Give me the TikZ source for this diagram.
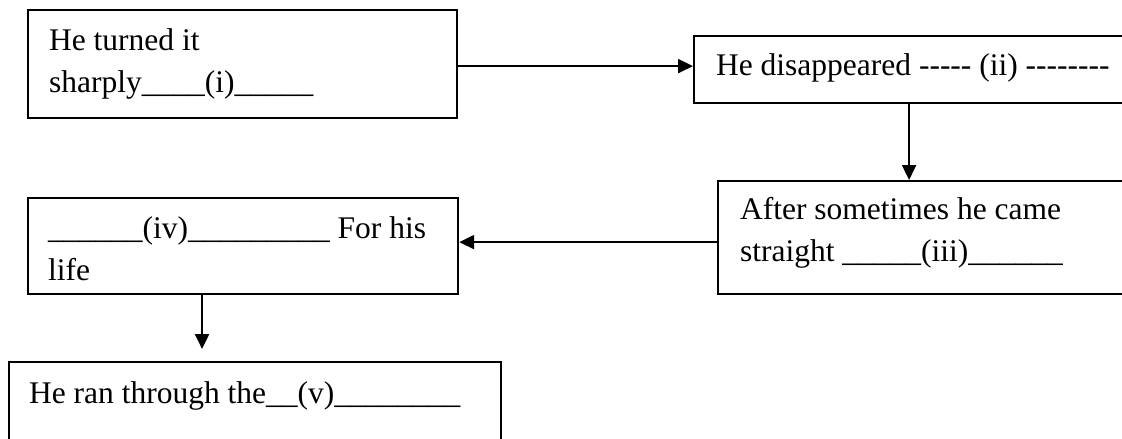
\documentclass[tikz,border=0pt]{standalone}
\usepackage{fontspec}
\setmainfont{Liberation Serif}
\usetikzlibrary{positioning}
\usetikzlibrary{arrows.meta}
\usetikzlibrary{calc}

\begin{document}
\begin{tikzpicture}[
            x = 1pt, y = -1pt,
            > = {Triangle[length=15pt, width=14pt]}, % arrow head style
            line width = 2.2pt
        ]

        \tikzstyle{box}=[
            draw,
            anchor = north west,
            inner sep = 0pt
        ]
        \tikzstyle{txt}=[
            inner sep = 0pt,
            align = left,
            font = \fontsize{31.5}{42}\selectfont
        ]

        \clip (0,0) rectangle (1122,439);

	% boxes
        \node[box, minimum width = 429, minimum height = 108] (B1) at (27,9) {};
        \node[box, minimum width = 430, minimum height = 67] (B2) at (693,35) {};
        \node[box, minimum width = 430, minimum height = 113] (B3) at (717,180) {};
        \node[box, minimum width = 430, minimum height = 96] (B4) at (27,197) {};
        \node[box, minimum width = 492, minimum height = 108] (B5) at (8,361) {};

         % texts
         \node[txt, below right = 10.6pt and 21pt of B1.north west] (T1)
              {\strut He turned it\\sharply\_\_\_\_(i)\_\_\_\_\_};
         \node[txt, below right = 9.6pt and 22pt of B2.north west] (T2)
              {\strut He disappeared -{}-{}-{}-{}- (ii) -{}-{}-{}-{}-{}-{}-{}-};
         \node[txt, below right = 8.6pt and 22pt of B3.north west] (T3)
              {\strut After sometimes he came\\straight \_\_\_\_\_(iii)\_\_\_\_\_\_};
         \node[txt, below right = 10.6pt and 20pt of B4.north west] (T4)
              {\strut\_\_\_\_\_\_(iv)\_\_\_\_\_\_\_\_\_ For his\\life};
         \node[txt, below right = 11.6pt and 20pt of B5.north west] (T5)
              {\strut He ran through the\_\_(v)\_\_\_\_\_\_\_\_};

         % arrows
         \coordinate (C1) at ([yshift=-2pt]B1.east);
         \draw[->] (C1) -- (C1 -| B2.west);
         \draw[->] (B2.south) -- (B2.south |- B3.north);
         \coordinate (C3) at ([yshift=-4.5pt]B3.west);
         \draw[->] (C3) -- (C3 -| B4.east);
         \coordinate (C4) at ($(B4.south west)!0.405!(B4.south east)$);
         \draw[->, shorten >= 12pt] (C4) -- (C4 |- B5.north);

  \end{tikzpicture}
\end{document}
